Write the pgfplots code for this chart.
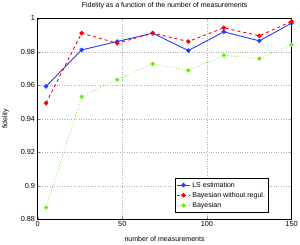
\documentclass[border=0pt]{standalone}
\usepackage{pgfplots}
\pgfplotsset{compat=1.18}
\usepackage{fontspec}
\setmainfont{Liberation Sans}
\definecolor{lsblue}{RGB}{40,60,255}
\definecolor{bred}{RGB}{255,0,0}
\definecolor{bgreen}{RGB}{100,240,0}
\begin{document}
\fontsize{7}{8}\selectfont
\begin{tikzpicture}
\begin{axis}[
  scale only axis,
  width=253pt, height=200pt,
  xmin=0, xmax=150, ymin=0.88, ymax=1,
  xtick={0,50,100,150},
  ytick={0.88,0.9,0.92,0.94,0.96,0.98,1},
  yticklabels={0.88,0.9,0.92,0.94,0.96,0.98,1},
  tick align=inside,
  major tick length=2pt,
  grid=major,
  major grid style={gray!60, dotted},
  /pgf/number format/assume math mode=true,
  tick label style={font=\fontsize{7.3}{8}\selectfont},
  label style={font=\fontsize{7}{8}\selectfont},
  title style={font=\fontsize{7}{8}\selectfont, yshift=1pt},
  title={Fidelity as a function of the number of measurements},
  xlabel={number of measurements},
  ylabel={fidelity},
  xlabel style={yshift=-5pt},
  ylabel style={yshift=7pt},
  legend style={font=\fontsize{7}{8}\selectfont, at={(0.91,0.035)}, anchor=south east, draw=black, inner sep=1.5pt, row sep=0pt},
  legend cell align=left,
  legend image code/.code={\draw[#1] (0cm,0cm) -- (0.45cm,0cm); \draw[#1, mark repeat=2, mark phase=2] plot coordinates {(0cm,0cm) (0.225cm,0cm) (0.45cm,0cm)};},
  every axis plot/.append style={mark size=1.8pt, line width=0.9pt},
]
\addplot[color=lsblue, solid, mark=*, mark options={solid}] coordinates {
(5,0.9594) (26,0.9812) (47,0.9862) (68,0.9912) (89,0.9808) (110,0.9920) (131,0.9866) (150,0.9972)};
\addlegendentry{LS estimation}
\addplot[color=bred, dashed, mark=*, mark options={solid}] coordinates {
(5,0.9494) (26,0.9912) (47,0.9852) (68,0.9912) (89,0.9862) (110,0.9944) (131,0.9896) (150,0.9982)};
\addlegendentry{Bayesian without regul.}
\addplot[color=bgreen, dotted, line width=0.6pt, mark=*, mark options={solid}] coordinates {
(5,0.8870) (26,0.9532) (47,0.9634) (68,0.9728) (89,0.9690) (110,0.9780) (131,0.9760) (150,0.9844)};
\addlegendentry{Bayesian}
\end{axis}
\end{tikzpicture}
\end{document}
